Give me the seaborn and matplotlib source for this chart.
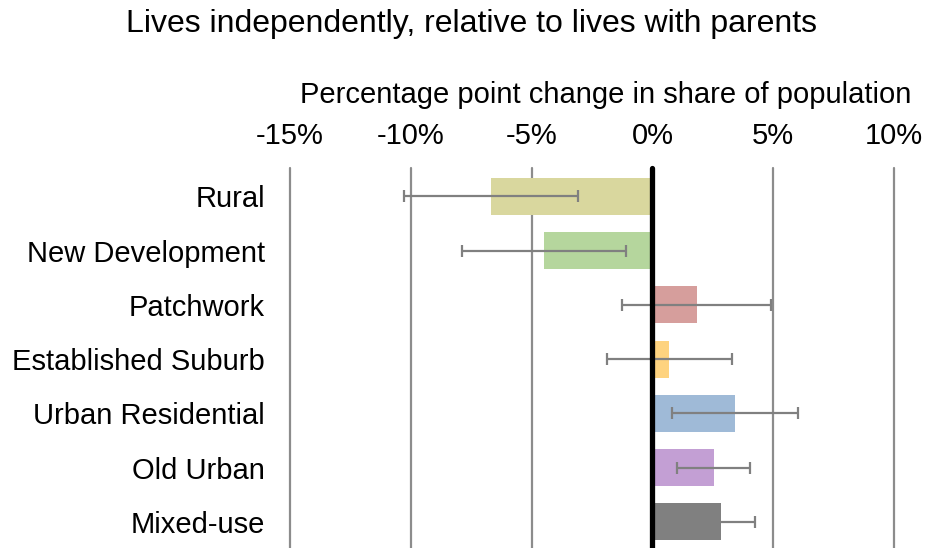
import matplotlib
matplotlib.use("Agg")
import matplotlib.pyplot as plt
import seaborn as sns
import pandas as pd
import numpy as np

categories = ["Rural", "New Development", "Patchwork", "Established Suburb",
              "Urban Residential", "Old Urban", "Mixed-use"]
values = [-6.68, -4.48, 1.83, 0.70, 3.40, 2.53, 2.86]
err_low = [-10.3, -7.9, -1.26, -1.88, 0.82, 1.0, 1.48]
err_high = [-3.1, -1.09, 4.92, 3.30, 6.02, 4.04, 4.23]
colors = ["#d9d79e", "#b5d69d", "#d69e9c", "#fed37f", "#9fbad7", "#c39fd4", "#808080"]
xticks = [-15, -10, -5, 0, 5, 10]
xticklabels = ["-15%", "-10%", "-5%", "0%", "5%", "10%"]

sns.set_theme(style="white")
plt.rcParams["font.family"] = ["Liberation Sans", "DejaVu Sans"]
plt.rcParams["text.color"] = "black"
plt.rcParams["xtick.color"] = "black"
plt.rcParams["ytick.color"] = "black"
plt.rcParams["axes.labelcolor"] = "black"

FS = 21

df = pd.DataFrame({"cat": categories, "val": values})

fig = plt.figure(figsize=(9.27, 5.48), dpi=100)
ax = fig.add_axes([290/927, 0.0, (894-290)/927, 1 - 168/548])

for t in xticks:
    ax.axvline(t, color="#8c8c8c", lw=1.6, zorder=0, clip_on=False)

sns.barplot(data=df, x="val", y="cat", hue="cat", palette=colors, order=categories,
            hue_order=categories, legend=False, width=0.68, ax=ax, saturation=1,
            zorder=2, linewidth=0)

ypos = np.arange(len(categories))
vals = np.array(values)
lo = vals - np.array(err_low)
hi = np.array(err_high) - vals
ax.errorbar(vals, ypos, xerr=[lo, hi], fmt="none", ecolor="#808080",
            elinewidth=1.6, capsize=4, capthick=1.6, zorder=3)

ax.axvline(0, color="black", lw=3.8, zorder=4, clip_on=False)

ax.set_xlim(-15, 10)
ax.set_ylim(6.48, -0.52)
ax.set_xticks(xticks)
ax.set_xticklabels(xticklabels, fontsize=FS)
ax.xaxis.tick_top()
ax.xaxis.set_label_position("top")
ax.set_xlabel("Percentage point change in share of population", fontsize=FS, va="center")
ax.xaxis.set_label_coords((606 - 290) / 604, 1 + 73 / 380)
ax.set_ylabel("")
ax.tick_params(axis="x", length=0, pad=13)
ax.tick_params(axis="y", length=0, pad=18, labelsize=FS)
for s in ax.spines.values():
    s.set_visible(False)

fig.text(472/927, 1 - 24/548, "Lives independently, relative to lives with parents",
         ha="center", va="center", fontsize=23)

fig.savefig("out.png", dpi=100)
